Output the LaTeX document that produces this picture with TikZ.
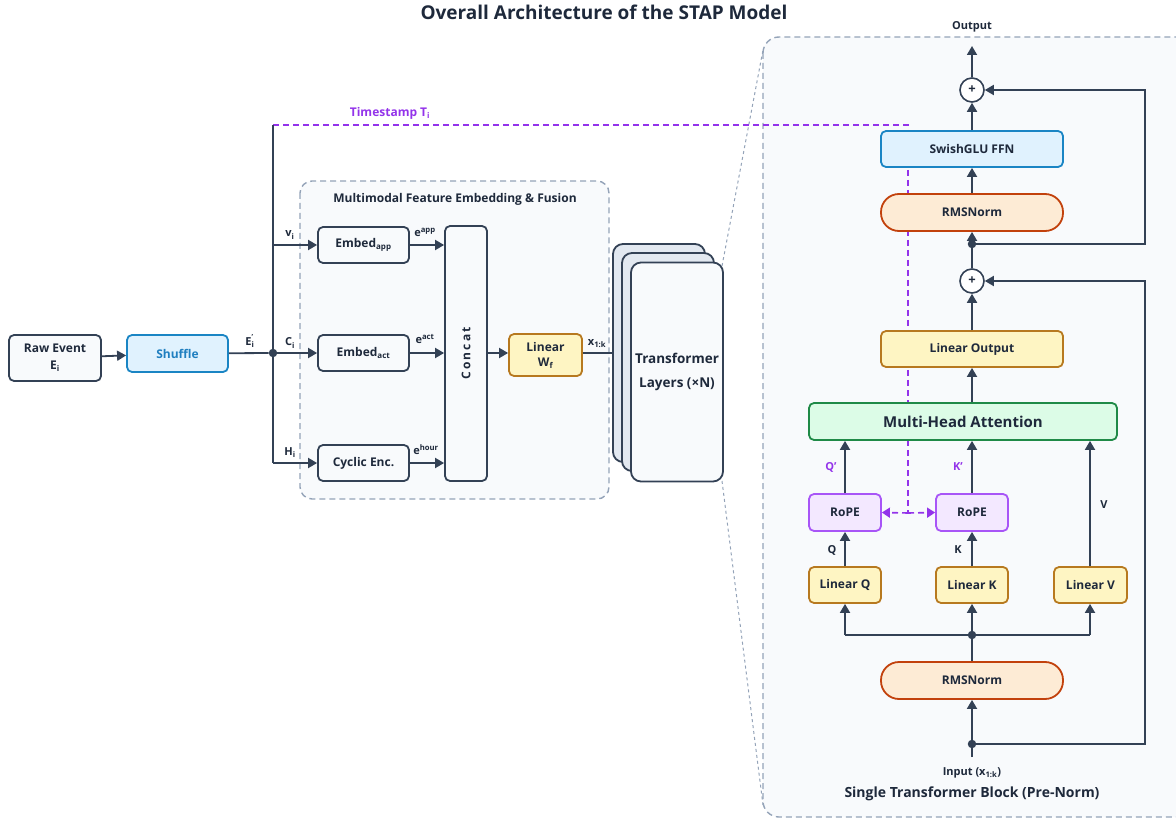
\documentclass[tikz,border=0pt]{standalone}
\usepackage{fontspec}
\setmainfont{Open Sans}
\usetikzlibrary{arrows.meta,calc}

\definecolor{ink}{HTML}{334155}
\definecolor{txt}{HTML}{1E293B}
\definecolor{gfill}{HTML}{F8FAFC}
\definecolor{grpline}{HTML}{94A3B8}
\definecolor{layerfill}{HTML}{E2E8F0}
\definecolor{bluefill}{HTML}{E0F2FE}
\definecolor{blueline}{HTML}{1A85C4}
\definecolor{bluetext}{HTML}{1F7FC0}
\definecolor{yelfill}{HTML}{FEF5C3}
\definecolor{yelline}{HTML}{B7791F}
\definecolor{orfill}{HTML}{FDEBD5}
\definecolor{orline}{HTML}{C2410C}
\definecolor{grfill}{HTML}{DCFCE7}
\definecolor{grline}{HTML}{1F8A47}
\definecolor{pufill}{HTML}{F3E8FF}
\definecolor{puline}{HTML}{A855F7}
\definecolor{putext}{HTML}{9333EA}

\newcommand{\lo}[1]{\textsubscript{#1}}
\newcommand{\hi}[1]{\textsuperscript{#1}}

\tikzset{
  box/.style={draw=ink, fill=gfill, line width=1.8pt, rounded corners=5pt,
    inner sep=0pt, align=center, text=txt,
    font=\bfseries\fontsize{12}{17}\selectfont},
  sz/.style 2 args={minimum width=#1pt, minimum height=#2pt},
  bluebox/.style={box, draw=blueline, fill=bluefill},
  yelbox/.style={box, draw=yelline, fill=yelfill},
  normbox/.style={box, draw=orline, fill=orfill, rounded corners=18pt},
  greenbox/.style={box, draw=grline, fill=grfill},
  purbox/.style={box, draw=puline, fill=pufill},
  layer/.style={draw=ink, fill=layerfill, line width=1.8pt, rounded corners=10pt},
  conn/.style={draw=ink, line width=1.8pt},
  arr/.style={conn, -{Triangle[length=9pt,width=10pt]}},
  junction/.style={circle, fill=ink, inner sep=0pt, minimum size=8.5pt},
  plus/.style={circle, draw=ink, fill=white, line width=1.6pt, inner sep=0pt,
    minimum size=24pt, text=txt, font=\bfseries\fontsize{13}{13}\selectfont},
  lbl/.style={text=txt, inner sep=0pt, font=\bfseries\fontsize{11}{13}\selectfont},
  plbl/.style={lbl, text=putext},
  grp/.style={draw=grpline, fill=gfill, line width=1.4pt,
    dash pattern=on 6pt off 4pt, rounded corners=12pt},
  zoomline/.style={draw=grpline, line width=1pt, dash pattern=on 3pt off 3pt},
  timeline/.style={draw=putext, line width=1.6pt, dash pattern=on 6pt off 4pt},
}

\begin{document}
\begin{tikzpicture}[x=1pt, y=-1pt]
\useasboundingbox (0,0) rectangle (1176,821);

% title
\node[text=txt, font=\bfseries\fontsize{19}{22}\selectfont] (title) at (604,12)
  {Overall Architecture of the STAP Model};

% group frames
\path[grp] (300,181) rectangle (609,499);
\node[lbl, font=\bfseries\fontsize{12}{14}\selectfont] (grptitle) at (455,199)
  {Multimodal Feature Embedding \& Fusion};
\path[grp, rounded corners=16pt] (763,37) rectangle (1215,817);

% zoom guides from the stack to the detailed block
\coordinate (zA) at (722,266);
\coordinate (zB) at (763,50);
\coordinate (zC) at (722,481);
\coordinate (zD) at (763,805);
\draw[zoomline] (zA) -- (zB);
\draw[zoomline] (zC) -- (zD);

% timestamp path (drawn under the boxes)
\coordinate (tsL) at (273,125);
\coordinate (tsR) at (908,125);
\coordinate (tsT) at (908,513);
\draw[timeline] (tsL) -- (tsR) -- (tsT);
\node[plbl, font=\bfseries\fontsize{12}{14}\selectfont] (tslbl) at (390,113)
  {Timestamp T\lo{i}};

% left pipeline
\node[box, sz={92}{46}] (raw) at (55,358) {Raw Event\\E\lo{i}};
\node[bluebox, sz={101}{37}, text=bluetext] (shuf) at (177.5,353.5) {Shuffle};
\node[junction] (j0) at (273,353) {};
\coordinate (vtop) at (273,125);
\coordinate (vbot) at (273,463);

\node[box, sz={91}{36}] (eapp) at (363.5,245) {Embed\lo{app}};
\node[box, sz={91}{36}] (eact) at (363.5,353) {Embed\lo{act}};
\node[box, sz={91}{36}] (cyc) at (363.5,463) {Cyclic Enc.};
\node[box, sz={42}{255}] (concat) at (466,353.5) {};
\node[text=txt, rotate=90, font=\bfseries\fontsize{12}{14}\selectfont\addfontfeature{LetterSpace=18}]
  (concatlbl) at (concat.center) {Concat};
\node[yelbox, sz={73}{42}, font=\bfseries\fontsize{12}{15}\selectfont] (linw) at (545.5,355) {Linear\\W\lo{f}};

% transformer stack
\path[layer] (613,244) rectangle (705,462);
\path[layer] (622,253) rectangle (714,471);
\node[box, sz={92}{219}, rounded corners=10pt, font=\bfseries\fontsize{13.5}{24}\selectfont] (stack)
  at (677,372) {Transformer\\Layers (×N)};
\coordinate (stackin) at (613,353);

% left connectors
\draw[arr] (raw) -- (shuf);
\draw[conn] (shuf) -- (j0);
\draw[conn] (vtop) -- (vbot);
\draw[arr] (273,245) -- (eapp);
\draw[arr] (j0) -- (eact);
\draw[arr] (vbot) -- (cyc);
\draw[arr] (eapp.east) -- (concat.west |- eapp.east);
\draw[arr] (eact.east) -- (concat.west |- eact.east);
\draw[arr] (cyc.east) -- (concat.west |- cyc.east);
\draw[arr] (concat.east |- linw.west) ++(0,-2) -- (linw.west |- 0,353);
\draw[conn] (linw.east |- 0,353) -- (stackin);

% left labels
\node[lbl] (lE) at (250,341) {E\rlap{\raisebox{0.9ex}{\scriptsize '}}\lo{i}};
\node[lbl] (lv) at (290,235) {v\lo{i}};
\node[lbl] (lC) at (290,343) {C\lo{i}};
\node[lbl] (lH) at (290,453) {H\lo{i}};
\node[lbl] (lapp) at (425,232) {e\hi{app}};
\node[lbl] (lact) at (425,339) {e\hi{act}};
\node[lbl] (lhour) at (426,450) {e\hi{hour}};
\node[lbl] (lx) at (597,344) {x\lo{1:k}};

% transformer block
\node[lbl] (out) at (972,27) {Output};
\coordinate (outtip) at (972,46);
\node[plus] (p1) at (972,90) {+};
\node[bluebox, sz={182}{36}] (ffn) at (972,149) {SwishGLU FFN};
\node[normbox, sz={182}{37}] (rms1) at (972,212.5) {RMSNorm};
\node[junction] (j1) at (972,244) {};
\node[plus] (p2) at (972,281) {+};
\node[yelbox, sz={182}{36}] (lout) at (972,349) {Linear Output};
\node[greenbox, sz={308}{37}, font=\bfseries\fontsize{15}{18}\selectfont] (mha) at (963,421.5) {Multi-Head Attention};
\node[purbox, sz={72}{37}] (ropeq) at (845,512.5) {RoPE};
\node[purbox, sz={72}{37}] (ropek) at (972,512.5) {RoPE};
\node[yelbox, sz={72}{36}] (linq) at (845,585) {Linear Q};
\node[yelbox, sz={72}{36}] (link) at (972,585) {Linear K};
\node[yelbox, sz={73}{36}] (linv) at (1090.5,585) {Linear V};
\node[junction] (j2) at (972,635) {};
\node[normbox, sz={182}{37}] (rms2) at (972,680.5) {RMSNorm};
\node[junction] (j3) at (972,744) {};
\coordinate (inp) at (972,757);
\node[lbl] (inlbl) at (972,773) {Input (x\lo{1:k})};
\node[lbl, font=\bfseries\fontsize{14}{16}\selectfont] (blocklbl) at (972,794)
  {Single Transformer Block (Pre-Norm)};

% block connectors
\draw[conn] (inp) -- (j3);
\draw[arr] (j3) -- (rms2);
\draw[conn] (rms2) -- (j2);
\draw[conn] (845,635) -- (1090,635);
\draw[arr] (845,635) -- (linq);
\draw[arr] (j2) -- (link);
\draw[arr] (1090,635) -- (linv.south -| 1090,0);
\draw[arr] (linq) -- (ropeq);
\draw[arr] (link) -- (ropek);
\draw[arr] (ropeq) -- (mha.south -| ropeq);
\draw[arr] (ropek) -- (mha.south -| ropek);
\draw[arr] (linv.north -| 1090,0) -- (mha.south -| 1090,0);
\draw[arr] (mha.north -| lout) -- (lout);
\draw[arr] (lout) -- (p2);
\draw[conn] (p2) -- (j1);
\draw[arr] (j1) -- (rms1);
\draw[arr] (rms1) -- (ffn);
\draw[arr] (ffn) -- (p1);
\draw[arr] (p1) -- (outtip);
\draw[arr] (j3) -- (1145,744) -- (1145,281) -- (p2);
\draw[arr] (j1) -- (1145,244) -- (1145,90) -- (p1);

% timestamp fork into both RoPE units
\draw[timeline, -{Triangle[length=8pt,width=10pt]}] (tsT) -- (ropeq.east);
\draw[timeline, -{Triangle[length=8pt,width=10pt]}] (tsT) -- (ropek.west);

% block labels
\node[plbl] (lq2) at (831,467) {Q'};
\node[plbl] (lk2) at (958,467) {K'};
\node[lbl] (lv2) at (1104,505) {V};
\node[lbl] (lq) at (832,550) {Q};
\node[lbl] (lk) at (958,550) {K};
\end{tikzpicture}
\end{document}
